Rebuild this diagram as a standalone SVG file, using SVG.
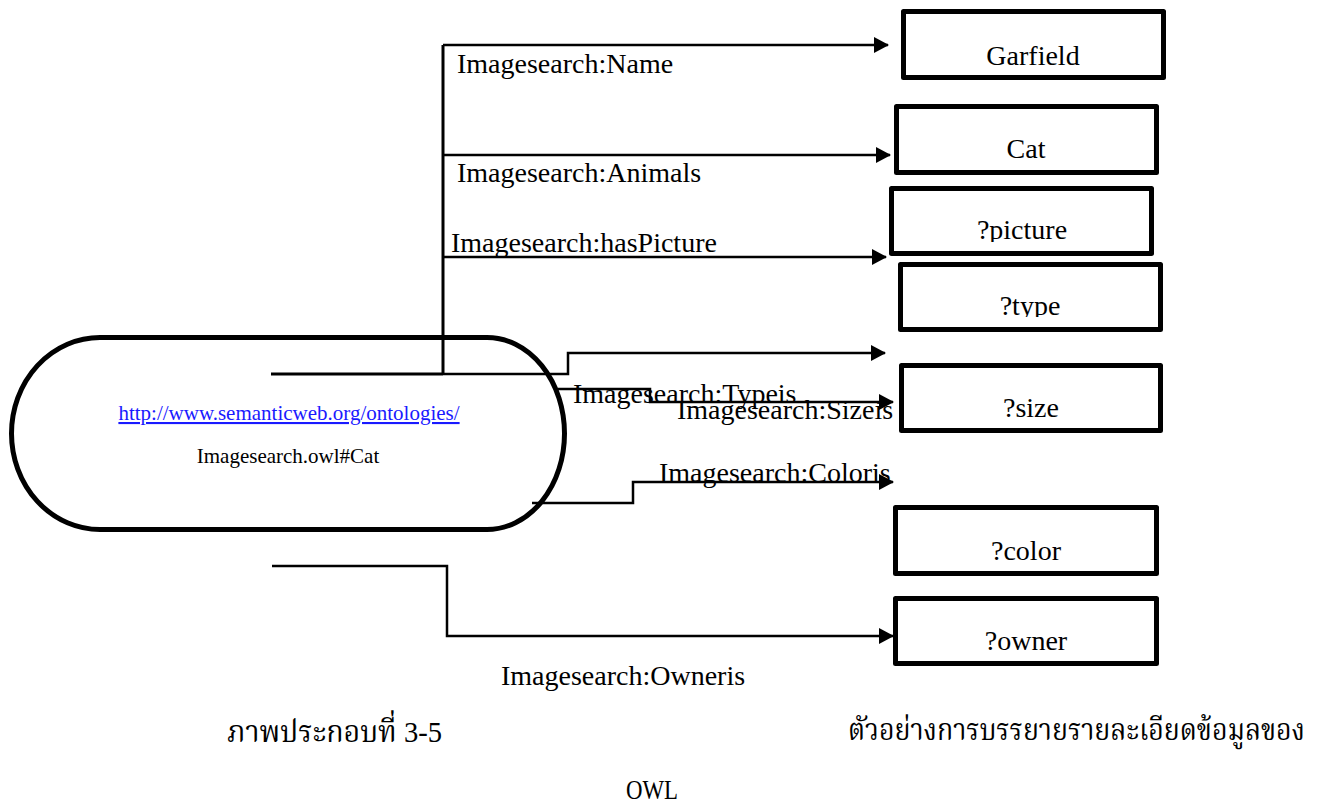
<svg xmlns="http://www.w3.org/2000/svg" width="1327" height="805" viewBox="0 0 1327 805">
  <style>
    .box { fill: #ffffff; stroke: #000000; stroke-width: 5; stroke-linejoin: round; }
    .val { font-family: "Liberation Serif", "Times New Roman", serif; font-size: 28px; fill: #000000; text-anchor: middle; }
    .lbl { font-family: "Liberation Serif", "Times New Roman", serif; font-size: 28px; fill: #000000; }
    .edge { fill: none; stroke: #000000; stroke-width: 2.5; marker-end: url(#arrow); }
    .trunk { fill: none; stroke: #000000; stroke-width: 3; }
    .cap { font-family: "Liberation Serif", "Noto Serif Thai", "Noto Sans Thai", "DejaVu Sans", serif; font-size: 30px; fill: #000000; }
  </style>
  <defs>
    <marker id="arrow" markerUnits="userSpaceOnUse" markerWidth="16" markerHeight="16" refX="14" refY="8" orient="auto">
      <path d="M0,0 L15,8 L0,16 Z" fill="#000000"/>
    </marker>
    <clipPath id="clipPicture"><rect x="890" y="186" width="266" height="56"/></clipPath>
    <clipPath id="clipType"><rect x="898" y="262" width="266" height="55"/></clipPath>
  </defs>
  <rect width="1327" height="805" fill="#ffffff"/>

  <!-- subject resource -->
  <g id="subject">
    <path d="M100,337.5 H487 A77.5,96 0 0 1 487,529.5 H100 A88.5,96 0 0 1 100,337.5 Z" fill="#ffffff" stroke="#000000" stroke-width="5"/>
    <text x="289" y="420" text-anchor="middle" font-family="'Liberation Serif', 'Times New Roman', serif" font-size="21" fill="#1a1aff" text-decoration="underline">http://www.semanticweb.org/ontologies/</text>
    <text x="288" y="463" text-anchor="middle" font-family="'Liberation Serif', 'Times New Roman', serif" font-size="21" fill="#000000">Imagesearch.owl#Cat</text>
  </g>

  <!-- property connectors -->
  <g id="connectors">
    <path class="trunk" d="M443,45 V374"/>
    <path class="trunk" d="M271,374 H443"/>
    <path class="edge" d="M443,45 H888"/>
    <path class="edge" d="M443,155 H890"/>
    <path class="edge" d="M443,257 H886"/>
    <path class="edge" d="M443,374 H568 V353 H885"/>
    <path class="edge" d="M558,389 H650 V402 H893"/>
    <path class="edge" d="M532,503 H633 V482 H893"/>
    <path class="edge" d="M272,566 H447 V636 H893"/>
    <text class="lbl" x="457" y="73">Imagesearch:Name</text>
    <text class="lbl" x="457" y="182">Imagesearch:Animals</text>
    <text class="lbl" x="451" y="252">Imagesearch:hasPicture</text>
    <text class="lbl" x="573" y="403">Imagesearch:Typeis</text>
    <text class="lbl" x="677" y="419">Imagesearch:Sizeis</text>
    <text class="lbl" x="659" y="482">Imagesearch:Coloris</text>
    <text class="lbl" x="501" y="685">Imagesearch:Owneris</text>
  </g>

  <!-- object values -->
  <g id="garfield">
    <rect class="box" x="903.5" y="11.5" width="260" height="66"/>
    <text class="val" x="1033" y="65">Garfield</text>
  </g>
  <g id="cat">
    <rect class="box" x="896.5" y="106.5" width="260" height="66"/>
    <text class="val" x="1026" y="158">Cat</text>
  </g>
  <g id="picture">
    <rect class="box" x="891.5" y="188.5" width="260" height="65"/>
    <text class="val" x="1022" y="239" clip-path="url(#clipPicture)">?picture</text>
  </g>
  <g id="type">
    <rect class="box" x="900.5" y="264.5" width="260" height="65"/>
    <text class="val" x="1030" y="315" clip-path="url(#clipType)">?type</text>
  </g>
  <g id="size">
    <rect class="box" x="901.5" y="365.5" width="259" height="65"/>
    <text class="val" x="1031" y="417">?size</text>
  </g>
  <g id="color">
    <rect class="box" x="895.5" y="507.5" width="261" height="66"/>
    <text class="val" x="1026" y="560">?color</text>
  </g>
  <g id="owner">
    <rect class="box" x="895.5" y="598.5" width="261" height="65"/>
    <text class="val" x="1026" y="650">?owner</text>
  </g>

  <!-- caption -->
  <g id="caption">
    <text class="cap" x="227" y="742" textLength="215" lengthAdjust="spacingAndGlyphs">ภาพประกอบที่ 3-5</text>
    <text class="cap" x="848" y="740" textLength="457" lengthAdjust="spacingAndGlyphs">ตัวอย่างการบรรยายรายละเอียดข้อมูลของ</text>
    <text x="626" y="799" font-family="'Liberation Serif', 'Times New Roman', serif" font-size="28" textLength="52" lengthAdjust="spacingAndGlyphs" fill="#000000">OWL</text>
  </g>
</svg>
